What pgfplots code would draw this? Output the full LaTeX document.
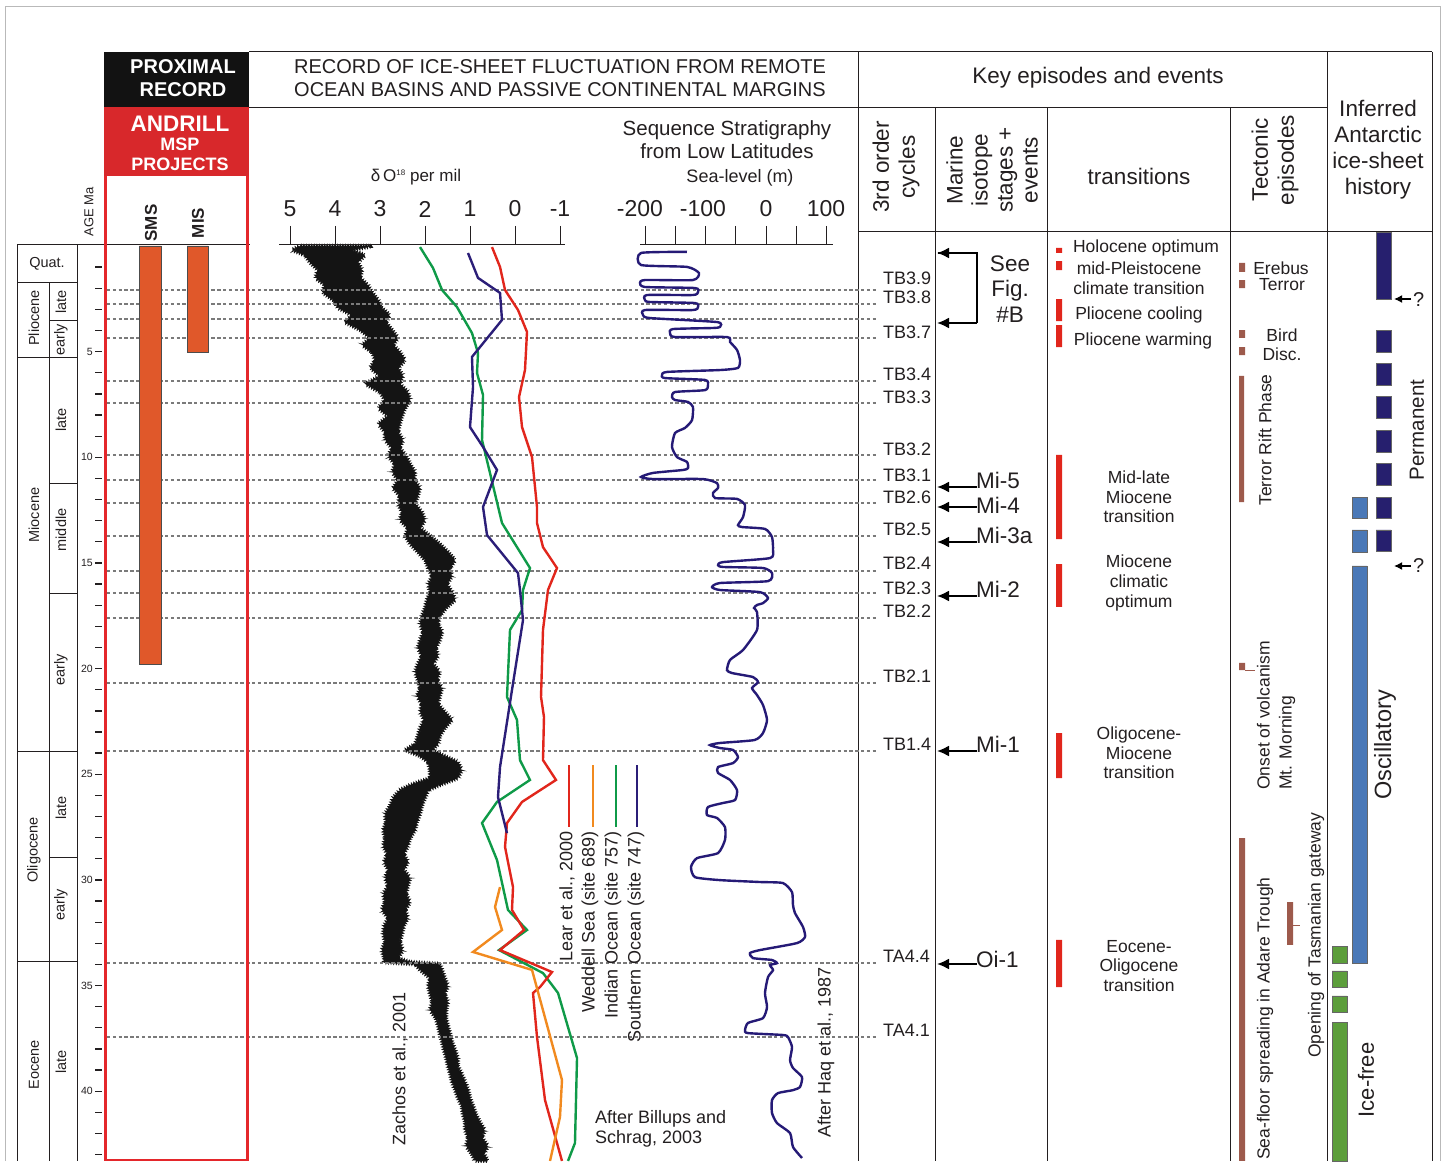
\documentclass[border=0pt]{standalone}
\usepackage{fontspec}
\setmainfont{Liberation Sans}
\usepackage{pgfplots}
\pgfplotsset{compat=1.18}
\usetikzlibrary{arrows.meta,decorations.pathmorphing}
\definecolor{txt}{HTML}{231F20}
\definecolor{cRed}{HTML}{E1261C}
\definecolor{cGreen}{HTML}{0F9A48}
\definecolor{cOrange}{HTML}{F18A1F}
\definecolor{cNavy}{HTML}{2B1E78}
\definecolor{cSea}{HTML}{251A76}
\definecolor{cBar}{HTML}{E0582A}
\definecolor{cHeadRed}{HTML}{D8282B}
\definecolor{cColRed}{HTML}{E4272B}
\definecolor{cBrown}{HTML}{9D5A4C}
\definecolor{cDark}{HTML}{261F6E}
\definecolor{cBlue}{HTML}{4A78B7}
\definecolor{cLGreen}{HTML}{5C9E3B}
\definecolor{cDot}{HTML}{7A7A7A}
\newcommand{\fsz}[2]{\fontsize{#1}{#2}\selectfont}
\pgfplotsset{
  age/.style={y filter/.expression={246+21.13*y}},
  dO/.style={age,x filter/.expression={515-45*x}},
  sl/.style={age,x filter/.expression={766+0.605*x}},
  dotl/.style={age,cDot,line width=2.7pt,dash pattern=on 3.4pt off 2.4pt},
}
\newcommand{\agebox}[5]{\addplot[age,#5] coordinates {(#1,#3) (#2,#3) (#2,#4) (#1,#4) (#1,#3)};}
\begin{document}
\begin{tikzpicture}[every node/.style={inner sep=0pt,text=txt},
  arr/.style={line width=2pt,-{Latex[length=12pt,width=11pt]}}]
\begin{axis}[width=1445pt,height=1161pt,scale only axis,xmin=0,xmax=1445,ymin=0,ymax=1161,
  y dir=reverse,hide axis,clip=false]
\path (0,0) rectangle (1445,1161);
% ---------- outer frame
\draw[gray!55,line width=1pt] (5,1161) -- (5,7) -- (1440,7) -- (1440,1161);
% ---------- header boxes
\fill[black!93] (104,52) rectangle (249,107);
\fill[cHeadRed] (104,107) rectangle (249,176);
\node[align=center,text=white,font={\bfseries\fsz{20}{23}}] at (183,78) {PROXIMAL\\RECORD};
\node[text=white,font={\bfseries\fsz{22.5}{24}}] at (180,124) {ANDRILL};
\node[text=white,font={\bfseries\fsz{18}{20}}] at (180,144) {MSP};
\node[text=white,font={\bfseries\fsz{18}{20}}] at (180,164) {PROJECTS};
\draw[txt,line width=1pt] (249,52) -- (1432,52);
\draw[txt,line width=1pt] (249,108) -- (1327,108);
\draw[txt,line width=1pt] (858,232) -- (1432,232);
\pgfplotsinvokeforeach{858,1327,1432}{\draw[txt,line width=1pt] (#1,52) -- (#1,1161);}
\pgfplotsinvokeforeach{935,1047,1230}{\draw[txt,line width=1pt] (#1,108) -- (#1,1161);}
\node[align=center,font={\fsz{20}{22.5}}] at (560,78) {RECORD OF ICE-SHEET FLUCTUATION FROM REMOTE\\OCEAN BASINS AND PASSIVE CONTINENTAL MARGINS};
\node[font={\fsz{22.5}{25}}] at (1098,78) {Key episodes and events};
\node[align=center,font={\fsz{22.5}{26}}] at (1378,150) {Inferred\\Antarctic\\ice-sheet\\history};
\node[rotate=90,align=center,font={\fsz{22.5}{26}}] at (896,167) {3rd order\\cycles};
\node[rotate=90,align=center,font={\fsz{22.5}{25}}] at (992,170) {Marine\\isotope\\stages +\\events};
\node[font={\fsz{22.5}{25}}] at (1139,176) {transitions};
\node[rotate=90,align=center,font={\fsz{22.5}{26}}] at (1275,160) {Tectonic\\episodes};
% ---------- time scale
\draw[txt,line width=1pt] (17,245) -- (250,245);
\draw[txt,line width=1pt] (17,245) -- (17,1161);
\draw[txt,line width=1pt] (77,245) -- (77,1161);
\draw[txt,line width=1pt] (49,283) -- (49,1161);
\pgfplotsinvokeforeach{283,358,751,961}{\draw[txt,line width=1pt] (17,#1) -- (77,#1);}
\pgfplotsinvokeforeach{321,483,593,857}{\draw[txt,line width=1pt] (49,#1) -- (77,#1);}
\node[font={\fsz{14.5}{16}}] at (47,264) {Quat.};
\node[rotate=90,font={\fsz{14.5}{16}}] at (34,318) {Pliocene};
\node[rotate=90,font={\fsz{14.5}{16}}] at (34,515) {Miocene};
\node[rotate=90,font={\fsz{14.5}{16}}] at (34,850) {Oligocene};
\node[rotate=90,font={\fsz{14.5}{16}}] at (34,1065) {Eocene};
\node[rotate=90,font={\fsz{14.5}{16}}] at (61,302) {late};
\node[rotate=90,font={\fsz{14.5}{16}}] at (61,340) {early};
\node[rotate=90,font={\fsz{14.5}{16}}] at (61,420) {late};
\node[rotate=90,font={\fsz{14.5}{16}}] at (61,530) {middle};
\node[rotate=90,font={\fsz{14.5}{16}}] at (61,670) {early};
\node[rotate=90,font={\fsz{14.5}{16}}] at (61,808) {late};
\node[rotate=90,font={\fsz{14.5}{16}}] at (61,905) {early};
\node[rotate=90,font={\fsz{14.5}{16}}] at (61,1062) {late};
\node[rotate=90,font={\fsz{13}{15}}] at (89,212) {AGE Ma};
\pgfplotsinvokeforeach{1,2,3,4,5,6,7,8,9,10,11,12,13,14,15,16,17,18,19,20,21,22,23,24,25,26,27,28,29,30,31,32,33,34,35,36,37,38,39,40,41,42,43}{
  \addplot[age,txt,line width=1.3pt] coordinates {(95,#1) (102,#1)};}
\pgfplotsinvokeforeach{5,10,15,20,25,30,35,40}{
  \node[anchor=east,font={\fsz{10.5}{12}}] at (93,{246+21.13*#1}) {#1};}
\node[rotate=90,font={\bfseries\fsz{17}{19}}] at (151,223) {SMS};
\node[rotate=90,font={\bfseries\fsz{17}{19}}] at (198,223) {MIS};
% ---------- Zachos et al. 2001 record (delta18O, age Ma)
\addplot[dO,fill=black!92,draw=black!92,line width=0.8pt,decorate,
  decoration={zigzag,segment length=2.6pt,amplitude=1.6pt}] coordinates {
(4.78,0) (4.96,0.19) (4.67,0.43) (4.56,0.76) (4.38,1.14) (4.44,1.51) (4.22,1.85) (4.29,2.18)
(4.04,2.56) (3.93,2.93) (3.62,3.27) (3.78,3.60) (3.44,3.98) (3.22,4.35) (3.40,4.69) (3.18,5.02)
(3.11,5.40) (3.22,5.77) (3.00,6.15) (3.33,6.53) (3.00,6.91) (2.89,7.29) (3.04,7.67) (2.82,8.05)
(3.04,8.42) (2.89,8.80) (2.89,9.18) (2.73,9.56) (2.82,9.94) (2.67,10.32) (2.73,10.70) (2.60,11.07)
(2.71,11.45) (2.56,11.83) (2.60,12.21) (2.51,12.59) (2.56,12.97) (2.38,13.35) (2.44,13.72) (2.33,14.10)
(2.16,14.48) (2.00,14.86) (1.93,15.24) (1.84,15.62) (1.93,16.00) (1.89,16.37) (1.96,16.75) (2.00,17.13)
(2.07,17.51) (2.11,17.89) (2.04,18.27) (2.11,18.65) (2.16,19.02) (2.07,19.40) (2.16,19.78) (2.22,20.16)
(2.16,20.54) (2.11,20.92) (2.18,21.30) (2.07,21.68) (2.11,22.05) (2.02,22.43) (2.11,22.81) (2.16,23.19)
(2.22,23.57) (2.44,23.85) (2.11,24.14) (1.93,24.42) (1.89,24.80) (1.89,25.18) (2.33,25.51) (2.56,25.75)
(2.71,26.12) (2.78,26.50) (2.89,26.88) (2.87,27.26) (2.93,27.64) (2.89,28.02) (2.93,28.40) (2.84,28.77)
(2.91,29.15) (2.82,29.53) (2.89,29.91) (2.82,30.29) (2.93,30.67) (2.89,31.05) (2.96,31.42) (2.82,31.80)
(2.91,32.18) (2.93,32.56) (2.89,32.94) (2.96,33.32) (2.91,33.70) (2.91,33.89) (2.22,33.98) (2.11,34.26)
(1.89,34.64) (1.93,35.02) (1.89,35.40) (1.84,35.78) (1.89,36.16) (1.76,36.54) (1.71,36.91) (1.67,37.29)
(1.62,37.67) (1.58,38.05) (1.53,38.43) (1.49,38.81) (1.44,39.19) (1.40,39.56) (1.33,39.94) (1.27,40.32)
(1.18,40.70) (1.16,41.08) (1.11,41.46) (1.11,41.84) (1.04,42.21) (1.09,42.59) (0.96,42.97) (0.89,43.30)
(0.60,43.30) (0.69,42.97) (0.60,42.59) (0.73,42.21) (0.67,41.84) (0.78,41.46) (0.87,41.08) (0.93,40.70)
(1.00,40.32) (1.04,39.94) (1.11,39.56) (1.18,39.19) (1.27,38.81) (1.27,38.43) (1.33,38.05) (1.40,37.67)
(1.44,37.29) (1.49,36.91) (1.53,36.54) (1.53,36.16) (1.49,35.78) (1.56,35.40) (1.49,35.02) (1.56,34.64)
(1.62,34.26) (1.67,33.98) (2.33,33.89) (2.60,33.70) (2.49,33.32) (2.56,32.94) (2.51,32.56) (2.47,32.18)
(2.38,31.80) (2.44,31.42) (2.33,31.05) (2.42,30.67) (2.38,30.29) (2.33,29.91) (2.47,29.53) (2.38,29.15)
(2.47,28.77) (2.38,28.40) (2.33,28.02) (2.22,27.64) (2.18,27.26) (2.11,26.88) (2.07,26.50) (2.00,26.12)
(1.93,25.75) (1.67,25.51) (1.27,25.18) (1.18,24.80) (1.27,24.42) (1.56,24.14) (1.84,23.85) (1.71,23.57)
(1.67,23.19) (1.56,22.81) (1.40,22.43) (1.56,22.05) (1.71,21.68) (1.67,21.30) (1.62,20.92) (1.73,20.54)
(1.67,20.16) (1.82,19.78) (1.71,19.40) (1.76,19.02) (1.67,18.65) (1.62,18.27) (1.71,17.89) (1.67,17.51)
(1.53,17.13) (1.33,16.75) (1.40,16.37) (1.51,16.00) (1.40,15.62) (1.44,15.24) (1.33,14.86) (1.49,14.48)
(1.67,14.10) (1.89,13.72) (2.11,13.35) (2.00,12.97) (2.07,12.59) (2.22,12.21) (2.16,11.83) (2.11,11.45)
(2.24,11.07) (2.22,10.70) (2.33,10.32) (2.42,9.94) (2.56,9.56) (2.49,9.18) (2.60,8.80) (2.56,8.42)
(2.51,8.05) (2.44,7.67) (2.33,7.29) (2.38,6.91) (2.56,6.53) (2.49,6.15) (2.60,5.77) (2.44,5.40)
(2.56,5.02) (2.71,4.69) (2.60,4.35) (2.73,3.98) (2.87,3.60) (2.78,3.27) (2.96,2.93) (3.04,2.56)
(3.18,2.18) (3.27,1.85) (3.44,1.51) (3.40,1.14) (3.49,0.76) (3.33,0.43) (3.62,0.19) (3.18,0) (4.78,0)};
% ---------- sequence boundaries (dotted)
\pgfplotsinvokeforeach{2.08,2.74,3.45,4.35,6.39,7.43,9.89,11.07,12.16,13.72,15.38,16.42,17.61,20.68,23.90,33.93,37.44}{
  \addplot[dotl] coordinates {(107,#1) (878,#1)};}
% ---------- ANDRILL bars
\agebox{139}{161}{0}{19.8}{fill=cBar,draw=black!70,line width=0.7pt}
\agebox{187}{208}{0}{5.05}{fill=cBar,draw=black!70,line width=0.7pt}
\draw[cColRed,line width=2.6pt] (105.5,176) -- (105.5,1160) -- (247.5,1160) -- (247.5,176);
% ---------- delta18O scale
\draw[txt,line width=1pt] (279,245) -- (565,245);
\pgfplotsinvokeforeach{5,4,3,2,1,0,-1}{
  \draw[txt,line width=1pt] ({515-45*#1},226) -- ({515-45*#1},245);
  \node[font={\fsz{23}{25}}] at ({515-45*#1},209) {#1};}
\node[font={\fsz{17}{19}}] at (416,177) {δ\,O\raisebox{6pt}{\fsz{8}{9}18} per mil};
% ---------- isotope curves
\addplot[dO,cGreen,line width=2.4pt] coordinates {
(2.111,0.05) (1.822,1.04) (1.622,2.08) (1.289,2.89) (0.956,4.12) (0.822,5.06) (0.844,6.01) (0.711,7.05)
(0.733,9.18) (0.556,10.74) (0.289,13.11) (-0.333,15.24) (-0.178,16.28) (-0.156,17.23) (0.111,18.17)
(0.178,21.34) (-0.044,22.43) (-0.111,24.33) (-0.333,25.27) (0.400,26.31) (0.733,27.31) (0.400,29.06)
(0.156,31.42) (-0.267,32.37) (0.356,33.32) (-0.622,34.41) (-0.956,35.35) (-1.378,38.43) (-1.333,42.45) (-1.178,43.30)};
\addplot[dO,cRed,line width=2.4pt] coordinates {
(0.511,0.05) (0.333,0.99) (0.222,2.08) (-0.067,3.03) (-0.267,4.07) (-0.222,5.87) (-0.089,7.15) (-0.156,8.57)
(-0.378,9.99) (-0.489,12.35) (-0.489,13.11) (-0.622,14.25) (-0.933,15.24) (-0.733,16.28) (-0.622,18.17)
(-0.578,21.34) (-0.644,22.29) (-0.622,24.33) (-0.911,25.27) (-0.156,26.31) (0.178,27.31) (0.222,28.44)
(0.044,30.34) (0.067,31.42) (-0.200,32.37) (0.333,33.32) (-0.822,34.36) (-0.556,35.07) (-0.400,35.35)
(-0.489,37.43) (-0.667,40.42) (-1.044,43.30)};
\addplot[dO,cOrange,line width=2.4pt] coordinates {
(0.333,30.34) (0.444,31.28) (0.289,32.37) (0.933,33.41) (-0.378,34.26) (-1.044,39.47) (-1.000,41.22) (-0.778,43.30)};
\addplot[dO,cNavy,line width=2.4pt] coordinates {
(1.044,0.33) (0.822,1.51) (0.333,2.22) (0.289,3.50) (0.956,5.25) (0.933,6.67) (1.000,8.57) (0.711,9.51)
(0.400,10.60) (0.711,12.35) (0.622,13.68) (-0.067,15.48) (-0.111,16.28) (-0.178,17.70) (0.067,21.01)
(0.333,24.66) (0.378,26.08) (0.178,27.79)};
% legend of isotope curves
\draw[cRed,line width=2.4pt] (569,765) -- (569,827);
\draw[cOrange,line width=2.4pt] (593,765) -- (593,827);
\draw[cGreen,line width=2.4pt] (616,765) -- (616,827);
\draw[cNavy,line width=2.4pt] (637,765) -- (637,827);
\node[rotate=90,anchor=east,font={\fsz{18}{20}}] at (567,831) {Lear et al., 2000};
\node[rotate=90,anchor=east,font={\fsz{18}{20}}] at (590,831) {Weddell Sea (site 689)};
\node[rotate=90,anchor=east,font={\fsz{18}{20}}] at (613,831) {Indian Ocean (site 757)};
\node[rotate=90,anchor=east,font={\fsz{18}{20}}] at (636,831) {Southern Ocean (site 747)};
\node[rotate=90,anchor=west,font={\fsz{18}{20}}] at (400,1146) {Zachos et al., 2001};
\node[align=left,anchor=north west,font={\fsz{18}{20}}] at (595,1110) {After Billups and\\Schrag, 2003};
% ---------- sea level scale and curve
\node[align=center,font={\fsz{20.5}{23}}] at (727,140) {Sequence Stratigraphy\\from Low Latitudes};
\node[font={\fsz{18}{20}}] at (740,178) {Sea-level (m)};
\draw[txt,line width=1pt] (640,245) -- (833,245);
\pgfplotsinvokeforeach{-200,-150,-100,-50,0,50,100}{
  \draw[txt,line width=1pt] ({766+0.605*#1},226) -- ({766+0.605*#1},245);}
\node[font={\fsz{23}{25}}] at (640,209) {-200};
\node[font={\fsz{23}{25}}] at (703,209) {-100};
\node[font={\fsz{23}{25}}] at (766,209) {0};
\node[font={\fsz{23}{25}}] at (826,209) {100};
\addplot[sl,cSea,line width=2.4pt,smooth,tension=0.35] coordinates {
(-130.6,0.28) (-206.6,0.33) (-206.6,0.90) (-130.6,0.99) (-110.8,1.28) (-120.7,1.61) (-200.0,1.61)
(-208.3,1.75) (-200.0,1.94) (-117.4,1.99) (-112.4,2.18) (-120.7,2.32) (-196.7,2.32) (-200.0,2.56)
(-191.7,2.65) (-117.4,2.70) (-112.4,2.89) (-120.7,3.03) (-200.0,3.03) (-203.3,3.27) (-191.7,3.41)
(-81.0,3.60) (-76.0,3.83) (-87.6,3.88) (-153.7,3.93) (-158.7,4.12) (-150.4,4.31) (-64.5,4.31)
(-59.5,4.54) (-47.9,4.92) (-43.0,5.40) (-46.3,5.77) (-76.0,5.87) (-163.6,5.96) (-171.9,6.11)
(-167.0,6.25) (-100.8,6.34) (-95.9,6.58) (-100.8,6.82) (-150.4,6.91) (-155.4,7.15) (-150.4,7.29)
(-128.9,7.38) (-120.7,7.62) (-122.3,8.24) (-133.9,8.61) (-150.4,8.85) (-155.4,9.51) (-147.1,9.99)
(-130.6,10.22) (-128.9,10.51) (-137.2,10.60) (-186.8,10.74) (-206.6,10.93) (-186.8,11.03) (-104.1,11.03)
(-81.0,11.22) (-79.3,11.45) (-87.6,11.69) (-84.3,11.93) (-47.9,11.97) (-34.7,12.26) (-38.0,12.83)
(-46.3,13.21) (-39.7,13.30) (-1.7,13.39) (9.9,13.77) (11.6,14.39) (6.6,14.77) (-71.1,14.96)
(-79.3,15.10) (-71.1,15.19) (-5.0,15.24) (9.9,15.48) (3.3,15.86) (-76.0,15.95) (-89.3,16.14)
(-76.0,16.28) (-9.9,16.38) (3.3,16.66) (-5.0,16.90) (-14.9,16.99) (-19.8,17.13) (-14.9,17.32)
(-14.9,18.17) (-38.0,19.12) (-59.5,19.59) (-64.5,20.07) (-56.2,20.21) (-21.5,20.40) (-13.2,20.64)
(-23.1,20.92) (-14.9,21.25) (-5.0,21.72) (1.7,22.43) (-5.0,23.05) (-19.0,23.38) (-76.0,23.52)
(-92.6,23.62) (-76.0,23.76) (-54.5,23.85) (-46.3,24.19) (-54.5,24.47) (-79.3,24.66) (-79.3,24.94)
(-59.5,25.27) (-47.9,25.75) (-51.2,26.22) (-71.1,26.36) (-95.9,26.55) (-97.5,26.93) (-81.0,27.07)
(-67.8,27.50) (-67.8,28.11) (-79.3,28.73) (-114.1,28.97) (-124.0,29.39) (-117.4,29.87) (-76.0,30.01)
(-9.9,30.10) (28.1,30.15) (43.0,30.58) (44.6,31.19) (47.9,31.57) (61.2,32.23) (64.5,32.70)
(51.2,32.99) (-9.9,33.32) (-26.4,33.46) (-21.5,33.70) (9.9,33.79) (18.2,33.94) (6.6,34.03)
(11.6,34.27) (3.3,34.60) (-1.7,35.36) (1.7,36.02) (-5.0,36.54) (-29.8,36.77) (-34.7,37.11)
(-29.8,37.25) (28.1,37.34) (36.4,37.44) (43.0,37.91) (39.7,38.53) (44.6,38.90) (59.5,39.33)
(56.2,39.80) (44.6,39.95) (19.8,40.09) (9.9,40.42) (9.9,41.03) (18.2,41.51) (39.7,41.98)
(44.6,42.64) (59.5,43.16)};
\node[rotate=90,anchor=west,font={\fsz{18}{20}}] at (826,1138) {After Haq et al., 1987};
% ---------- 3rd order cycles
\node[anchor=west,font={\fsz{18}{20}}] at (883,278) {TB3.9};
\node[anchor=west,font={\fsz{18}{20}}] at (883,297) {TB3.8};
\node[anchor=west,font={\fsz{18}{20}}] at (883,332) {TB3.7};
\node[anchor=west,font={\fsz{18}{20}}] at (883,374) {TB3.4};
\node[anchor=west,font={\fsz{18}{20}}] at (883,397) {TB3.3};
\node[anchor=west,font={\fsz{18}{20}}] at (883,449) {TB3.2};
\node[anchor=west,font={\fsz{18}{20}}] at (883,475) {TB3.1};
\node[anchor=west,font={\fsz{18}{20}}] at (883,497) {TB2.6};
\node[anchor=west,font={\fsz{18}{20}}] at (883,529) {TB2.5};
\node[anchor=west,font={\fsz{18}{20}}] at (883,563) {TB2.4};
\node[anchor=west,font={\fsz{18}{20}}] at (883,588) {TB2.3};
\node[anchor=west,font={\fsz{18}{20}}] at (883,611) {TB2.2};
\node[anchor=west,font={\fsz{18}{20}}] at (883,676) {TB2.1};
\node[anchor=west,font={\fsz{18}{20}}] at (883,744) {TB1.4};
\node[anchor=west,font={\fsz{18}{20}}] at (883,956) {TA4.4};
\node[anchor=west,font={\fsz{18}{20}}] at (883,1030) {TA4.1};
% ---------- marine isotope events
\draw[line width=2pt] (938,253) -- (977,253) -- (977,323);
\draw[arr] (977,253) -- (937,253);
\draw[arr] (977,323) -- (937,323);
\node[align=center,font={\fsz{22.5}{25.5}}] at (1010,289) {See\\Fig.\\\#B};
\draw[arr] (977,487) -- (937,487);
\draw[arr] (977,507) -- (937,507);
\draw[arr] (977,542) -- (937,542);
\draw[arr] (977,596) -- (937,596);
\draw[arr] (977,751) -- (937,751);
\draw[arr] (977,964) -- (937,964);
\node[anchor=base west,font={\fsz{22.5}{25}}] at (976,488) {Mi-5};
\node[anchor=base west,font={\fsz{22.5}{25}}] at (976,513) {Mi-4};
\node[anchor=base west,font={\fsz{22.5}{25}}] at (976,543) {Mi-3a};
\node[anchor=base west,font={\fsz{22.5}{25}}] at (976,597) {Mi-2};
\node[anchor=base west,font={\fsz{22.5}{25}}] at (976,752) {Mi-1};
\node[anchor=base west,font={\fsz{22.5}{25}}] at (976,967) {Oi-1};
% ---------- transitions
\agebox{1056}{1062}{0.09}{0.33}{fill=cRed,draw=none}
\agebox{1056}{1062}{0.71}{1.14}{fill=cRed,draw=none}
\agebox{1056}{1062}{2.51}{3.55}{fill=cRed,draw=none}
\agebox{1056}{1062}{3.74}{4.78}{fill=cRed,draw=none}
\agebox{1056}{1062}{9.89}{13.87}{fill=cRed,draw=none}
\agebox{1056}{1062}{15.05}{17.08}{fill=cRed,draw=none}
\agebox{1056}{1062}{23.05}{25.18}{fill=cRed,draw=none}
\agebox{1056}{1062}{32.84}{35.07}{fill=cRed,draw=none}
\node[font={\fsz{17.5}{19}}] at (1146,248) {Holocene optimum};
\node[font={\fsz{17.5}{19}}] at (1139,268) {mid-Pleistocene};
\node[font={\fsz{17.5}{19}}] at (1139,288) {climate transition};
\node[font={\fsz{17.5}{19}}] at (1139,315) {Pliocene cooling};
\node[font={\fsz{17.5}{19}}] at (1143,341) {Pliocene warming};
\node[align=center,font={\fsz{17.5}{19.7}}] at (1139,497) {Mid-late\\Miocene\\transition};
\node[align=center,font={\fsz{17.5}{19.7}}] at (1139,583) {Miocene\\climatic\\optimum};
\node[align=center,font={\fsz{17.5}{19.7}}] at (1139,753) {Oligocene-\\Miocene\\transition};
\node[align=center,font={\fsz{17.5}{19.7}}] at (1139,966) {Eocene-\\Oligocene\\transition};
% ---------- tectonic episodes
\agebox{1239}{1245}{0.80}{1.23}{fill=cBrown,draw=none}
\agebox{1239}{1245}{1.61}{1.99}{fill=cBrown,draw=none}
\agebox{1239}{1245}{3.98}{4.35}{fill=cBrown,draw=none}
\agebox{1239}{1245}{4.78}{5.16}{fill=cBrown,draw=none}
\agebox{1239}{1244}{6.15}{12.12}{fill=cBrown,draw=none}
\agebox{1239}{1245}{19.73}{20.07}{fill=cBrown,draw=none}
\agebox{1239}{1245}{28.02}{43.30}{fill=cBrown,draw=none}
\agebox{1287}{1293}{31.05}{33.08}{fill=cBrown,draw=none}
\draw[cBrown,line width=0.8pt] (1245,670) -- (1255,670);
\draw[cBrown,line width=0.8pt] (1293,925) -- (1300,925);
\node[font={\fsz{17.5}{19}}] at (1281,268) {Erebus};
\node[font={\fsz{17.5}{19}}] at (1282,285) {Terror};
\node[font={\fsz{17.5}{19}}] at (1282,335) {Bird};
\node[font={\fsz{17.5}{19}}] at (1282,354) {Disc.};
\node[rotate=90,font={\fsz{17.5}{19}}] at (1265,440) {Terror Rift Phase};
\node[rotate=90,anchor=west,align=left,font={\fsz{17.5}{22}}] at (1276,790) {Onset of volcanism\\Mt. Morning};
\node[rotate=90,anchor=west,font={\fsz{17.5}{19}}] at (1265,1160) {Sea-floor spreading in Adare Trough};
\node[rotate=90,anchor=west,font={\fsz{17.5}{19}}] at (1316,1058) {Opening of Tasmanian gateway};
% ---------- inferred ice-sheet history
\agebox{1376}{1391}{-0.66}{2.51}{fill=cDark,draw=black!60,line width=0.5pt}
\agebox{1376}{1391}{3.98}{5.02}{fill=cDark,draw=black!60,line width=0.5pt}
\agebox{1376}{1391}{5.54}{6.58}{fill=cDark,draw=black!60,line width=0.5pt}
\agebox{1376}{1391}{7.10}{8.14}{fill=cDark,draw=black!60,line width=0.5pt}
\agebox{1376}{1391}{8.71}{9.75}{fill=cDark,draw=black!60,line width=0.5pt}
\agebox{1376}{1391}{10.27}{11.31}{fill=cDark,draw=black!60,line width=0.5pt}
\agebox{1376}{1391}{11.88}{12.87}{fill=cDark,draw=black!60,line width=0.5pt}
\agebox{1376}{1391}{13.44}{14.43}{fill=cDark,draw=black!60,line width=0.5pt}
\agebox{1352}{1367}{11.88}{12.87}{fill=cBlue,draw=black!60,line width=0.5pt}
\agebox{1352}{1367}{13.44}{14.48}{fill=cBlue,draw=black!60,line width=0.5pt}
\agebox{1352}{1367}{15.14}{33.93}{fill=cBlue,draw=black!60,line width=0.5pt}
\agebox{1332}{1347}{33.13}{33.93}{fill=cLGreen,draw=black!60,line width=0.5pt}
\agebox{1332}{1347}{34.31}{35.07}{fill=cLGreen,draw=black!60,line width=0.5pt}
\agebox{1332}{1347}{35.49}{36.25}{fill=cLGreen,draw=black!60,line width=0.5pt}
\agebox{1332}{1347}{36.73}{43.30}{fill=cLGreen,draw=black!60,line width=0.5pt}
\draw[line width=1.5pt,-{Latex[length=8pt,width=8pt]}] (1411,299) -- (1394,299);
\draw[line width=1.5pt,-{Latex[length=8pt,width=8pt]}] (1411,566) -- (1394,566);
\node[anchor=west,font={\fsz{20}{22}}] at (1413,300) {?};
\node[anchor=west,font={\fsz{20}{22}}] at (1413,566) {?};
\node[rotate=90,font={\fsz{20.5}{22}}] at (1417,430) {Permanent};
\node[rotate=90,font={\fsz{23.5}{25}}] at (1385,745) {Oscillatory};
\node[rotate=90,font={\fsz{22}{24}}] at (1366,1080) {Ice-free};
\end{axis}
\end{tikzpicture}
\end{document}
